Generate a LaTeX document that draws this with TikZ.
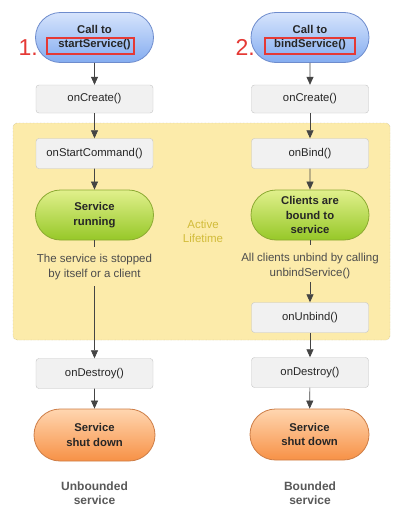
\documentclass[tikz,border=0pt]{standalone}
\usepackage{fontspec}
\setmainfont{Liberation Sans}
\usetikzlibrary{arrows.meta,shapes.misc}
\definecolor{boxfill}{HTML}{F1F1F1}
\definecolor{boxline}{HTML}{C4C4C4}
\definecolor{areafill}{HTML}{FCEBAA}
\definecolor{arealine}{HTML}{B8A880}
\definecolor{arrowc}{HTML}{444444}
\definecolor{redmark}{HTML}{E53935}
\definecolor{lifec}{HTML}{D2BC3A}
\tikzset{
  x=1pt, y=-1pt,
  every node/.style={font=\fontsize{11.3}{13}\selectfont, text=black!85},
  mbox/.style={draw=boxline, fill=boxfill, rounded corners=3pt, minimum width=117pt, minimum height=30pt, inner sep=0pt},
  pill/.style={rounded rectangle, minimum width=118pt, minimum height=50pt, inner sep=0pt, align=center, font=\fontsize{11.3}{14.3}\selectfont\bfseries, line width=0.8pt},
  bluepill/.style={pill, draw={rgb,255:red,110;green,140;blue,205}, top color={rgb,255:red,214;green,228;blue,252}, bottom color={rgb,255:red,132;green,172;blue,240}},
  greenpill/.style={pill, draw={rgb,255:red,140;green,170;blue,50}, top color={rgb,255:red,225;green,240;blue,140}, bottom color={rgb,255:red,150;green,200;blue,40}},
  orangepill/.style={pill, draw={rgb,255:red,205;green,125;blue,70}, top color={rgb,255:red,255;green,214;blue,176}, bottom color={rgb,255:red,247;green,145;blue,70}},
  note/.style={align=center, text=black!70, font=\fontsize{11.5}{15}\selectfont},
  arr/.style={draw=arrowc, line width=0.7pt, -{Triangle[width=7pt,length=8pt]}},
  ln/.style={draw=arrowc, line width=0.7pt},
  redbox/.style={draw=redmark, line width=2pt},
  num/.style={text=redmark, font=\fontsize{23}{23}\selectfont},
  caption/.style={align=center, text=black!65, font=\fontsize{12}{14.5}\selectfont\bfseries}
}
\begin{document}
\begin{tikzpicture}
\useasboundingbox (0,0) rectangle (412,522);
\fill[white] (0,0) rectangle (412,522);
% active lifetime area
\draw[fill=areafill, draw=arealine, densely dotted, rounded corners=4pt] (13,123) rectangle (390,340);
\node[text=lifec, align=center, font=\fontsize{11.5}{14}\selectfont] (life) at (203,231) {Active\\Lifetime};

% left column
\node[bluepill] (callS) at (94.5,37.5) {Call to\\startService()};
\node[mbox, minimum height=28pt] (createL) at (94.5,99) {onCreate()};
\node[mbox] (startCmd) at (94.5,153.5) {onStartCommand()};
\node[greenpill] (running) at (94.5,215) {Service\\running};
\node[note] (stopped) at (94.5,267) {The service is stopped\\by itself or a client};
\node[mbox] (destroyL) at (94.5,373.5) {onDestroy()};
\node[orangepill, minimum width=121pt, minimum height=52pt] (shutL) at (94.5,435) {Service\\shut down};
\node[caption] (unb) at (94.5,493) {Unbounded\\service};

% right column
\node[bluepill] (callB) at (310,37.5) {Call to\\bindService()};
\node[mbox, minimum height=28pt] (createR) at (310,99) {onCreate()};
\node[mbox] (onBind) at (310,153.5) {onBind()};
\node[greenpill] (bound) at (310,215) {Clients are\\bound to\\service};
\node[note] (unbind) at (310,266) {All clients unbind by calling\\unbindService()};
\node[mbox] (onUnbind) at (310,317.5) {onUnbind()};
\node[mbox] (destroyR) at (310,372.5) {onDestroy()};
\node[orangepill, minimum width=119pt, minimum height=51pt] (shutR) at (309.5,434.5) {Service\\shut down};
\node[caption] (bnd) at (310,493) {Bounded\\service};

% red markers
\draw[redbox] (47,38) rectangle (134,54);
\draw[redbox] (265,38) rectangle (355,54);
\node[num, anchor=base west] (n1) at (15,55) {1.};
\node[num, anchor=base west] (n2) at (232,55) {2.};

% connectors
\draw[arr] (callS) -- (createL);
\draw[arr] (createL) -- (startCmd);
\draw[arr] (startCmd) -- (running);
\draw[ln] (running.south) -- ++(0,7);
\draw[arr] (stopped.south) ++(0,3) -- (destroyL.north);
\draw[arr] (destroyL) -- (shutL);

\draw[arr] (callB) -- (createR);
\draw[arr] (createR) -- (onBind);
\draw[arr] (onBind) -- (bound);
\draw[ln] (bound.south) -- ++(0,5);
\draw[arr] (unbind.south) -- (onUnbind.north);
\draw[arr] (onUnbind) -- (destroyR);
\draw[arr] (destroyR) -- (shutR);
\end{tikzpicture}
\end{document}
